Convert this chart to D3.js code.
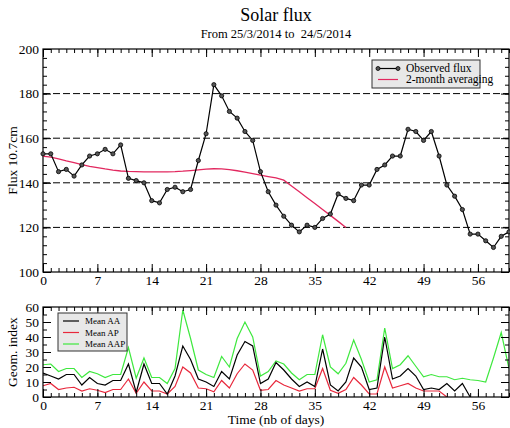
<!DOCTYPE html>
<html>
<head>
<meta charset="utf-8">
<script src="https://cdn.jsdelivr.net/npm/d3@7"></script>
<style>
    body { margin: 0; background: #fff; }
    svg text { font-family: "Liberation Serif", "DejaVu Serif", serif; fill: #000; }
    .axis path { display: none; }
    .axis line { stroke: #000; stroke-width: 1; }
</style>
</head>
<body>
<div id="chart"></div>
<script>
// days since 25/3/2014
const days = d3.range(0, 61);
const observedFlux = [153, 153, 145, 146, 143, 148, 152, 153, 155, 153, 157, 142, 141, 140, 132, 131, 137, 138, 136, 137,
    150, 162, 184, 179, 172, 169, 163, 159, 145, 136, 130, 125, 121, 118, 121, 120, 124, 126, 135, 133,
    132, 139, 139, 146, 148, 152, 152, 164, 163, 159, 163, 152, 139, 134, 128, 117, 117, 114, 111, 116, 118];
// 2-month averaging, available up to day 39
const averagedFlux = [152, 151.5, 150.7, 149.8, 149, 148.2, 147.4, 146.8, 146.2, 145.7, 145.3, 145.1, 145, 144.9, 144.9,
    144.9, 144.9, 145, 145.2, 145.5, 145.8, 146.1, 146.3, 146.2, 145.9, 145.4, 144.8, 144.1, 143.4, 142.8,
    142.2, 141.2, 138.6, 136, 133.3, 130.7, 128, 125.4, 122.7, 120];
const meanAA = [16, 14, 12, 15, 15, 8, 13, 9, 8, 11, 11, 22, 3, 22, 9, 9, 2, 14, 34, 25,
    12, 10, 7, 17, 12, 28, 37, 34, 9, 12, 23, 18, 12, 7, 10, 7, 32, 8, 4, 10,
    26, 20, 5, 6, 40, 12, 14, 19, 14, 5, 6, 5, 9, 4, 9, 0];
const meanAP = [7.5, 9, 5, 6, 6.5, 4, 5.5, 4.5, 3, 5, 5, 12, 2.5, 10, 4, 4, 2, 7, 20, 16,
    6, 5.5, 3.5, 11, 6, 15.5, 22, 18, 4.5, 5, 11, 8, 6, 4, 5.5, 5.5, 19, 4.5, 2.5, 5,
    13, 8, 2, 2, 20, 6, 7.5, 9, 6, 4, 4, 4, 0];
const meanAAP = [21.5, 22, 17, 19, 19, 13, 17, 15.5, 13, 15, 15, 33, 12.5, 26, 13, 13, 9, 19, 58, 39,
    18, 15, 13, 27, 20, 39, 50, 40, 14, 17, 24, 22, 16, 11.5, 15, 15, 41.5, 20, 15.5, 22.5,
    38, 25, 10, 11.5, 46, 19, 21.5, 27.5, 20.5, 13.5, 15, 13.5, 13.5, 11.5, 12.5, 11.5, 11, 10, 26, 43, 19];
const xTicks = [0, 7, 14, 21, 28, 35, 42, 49, 56];
const fluxTicks = [100, 120, 140, 160, 180, 200];
const fluxGrid = [120, 140, 160, 180];
const geomTicks = [0, 10, 20, 30, 40, 50, 60];

const fluxLegend = ['Observed flux', '2-month averaging'];
const geomSeries = [
    { name: 'Mean AA', values: meanAA, color: '#000000' },
    { name: 'Mean AP', values: meanAP, color: '#e8283c' },
    { name: 'Mean AAP', values: meanAAP, color: '#3ee83e' }
];

const width = 510;
const height = 428;
const left = 43;
const right = 509;

const svg = d3.select('#chart')
    .append('svg')
    .attr('width', width)
    .attr('height', height);

// title
svg.append('text')
    .attr('x', 276).attr('y', 21)
    .attr('text-anchor', 'middle')
    .style('font-size', '18px')
    .text('Solar flux');
svg.append('text')
    .attr('x', 276).attr('y', 38)
    .attr('text-anchor', 'middle')
    .style('font-size', '12.5px')
    .style('white-space', 'pre')
    .text('From 25/3/2014 to  24/5/2014');

const xScale = d3.scaleLinear().domain([0, 60]).range([left, right]);

// draws the frame with inward ticks on all four sides
function drawFrame(yScale, majorY, minorStep, showX) {
    const [y0, y1] = yScale.range();
    const [d0, d1] = yScale.domain();
    const minorY = d3.range(d0, d1 + 0.001, minorStep);
    const minorX = d3.range(0, 61);

    const put = (axis, tx, ty) => svg.append('g')
        .attr('class', 'axis')
        .attr('transform', `translate(${tx},${ty})`)
        .call(axis);

    // minor ticks
    put(d3.axisBottom(xScale).tickValues(minorX).tickSize(-4).tickFormat(''), 0, y0);
    put(d3.axisTop(xScale).tickValues(minorX).tickSize(-4).tickFormat(''), 0, y1);
    put(d3.axisLeft(yScale).tickValues(minorY).tickSize(-4).tickFormat(''), left, 0);
    put(d3.axisRight(yScale).tickValues(minorY).tickSize(-4).tickFormat(''), right, 0);

    // major ticks
    const xb = put(d3.axisBottom(xScale).tickValues(xTicks).tickSize(-8).tickPadding(3)
        .tickFormat(showX ? d3.format('d') : ''), 0, y0);
    xb.selectAll('text').style('font-size', '13.5px');
    put(d3.axisTop(xScale).tickValues(xTicks).tickSize(-8).tickFormat(''), 0, y1);
    const yl = put(d3.axisLeft(yScale).tickValues(majorY).tickSize(-8).tickPadding(4), left, 0);
    yl.selectAll('text').style('font-size', '13.5px');
    put(d3.axisRight(yScale).tickValues(majorY).tickSize(-8).tickFormat(''), right, 0);

    svg.append('rect')
        .attr('x', left).attr('y', y1)
        .attr('width', right - left).attr('height', y0 - y1)
        .attr('fill', 'none')
        .attr('stroke', '#000')
        .attr('stroke-width', 1.2);
}

// ---- top panel: solar flux
const fluxY = d3.scaleLinear().domain([100, 200]).range([272, 49]);

svg.append('g')
    .selectAll('line')
    .data(fluxGrid)
    .join('line')
    .attr('x1', left).attr('x2', right)
    .attr('y1', d => fluxY(d)).attr('y2', d => fluxY(d))
    .attr('stroke', '#000')
    .attr('stroke-width', 1)
    .attr('stroke-dasharray', '7,3');

drawFrame(fluxY, fluxTicks, 4, true);

const fluxLine = d3.line()
    .x((d, i) => xScale(days[i]))
    .y(d => fluxY(d));

svg.append('path')
    .datum(averagedFlux)
    .attr('d', fluxLine)
    .attr('fill', 'none')
    .attr('stroke', '#e2285f')
    .attr('stroke-width', 1.3);

svg.append('path')
    .datum(observedFlux)
    .attr('d', fluxLine)
    .attr('fill', 'none')
    .attr('stroke', '#000')
    .attr('stroke-width', 1.2);

svg.append('g')
    .selectAll('circle')
    .data(observedFlux)
    .join('circle')
    .attr('cx', (d, i) => xScale(days[i]))
    .attr('cy', d => fluxY(d))
    .attr('r', 2.1)
    .attr('fill', '#555')
    .attr('stroke', '#000')
    .attr('stroke-width', 0.8);

svg.append('text')
    .attr('transform', `translate(17,${(272 + 49) / 2}) rotate(-90)`)
    .attr('text-anchor', 'middle')
    .style('font-size', '13.5px')
    .text('Flux 10.7cm');

// legend
const lg = svg.append('g').attr('transform', 'translate(372,60)');
lg.append('rect')
    .attr('width', 108).attr('height', 28)
    .attr('fill', '#e8e8e8')
    .attr('stroke', '#333')
    .attr('stroke-width', 1);
lg.append('line')
    .attr('x1', 6).attr('x2', 26).attr('y1', 8.5).attr('y2', 8.5)
    .attr('stroke', '#000').attr('stroke-width', 1.2);
lg.selectAll('circle.mk')
    .data([6, 26])
    .join('circle')
    .attr('class', 'mk')
    .attr('cx', d => d).attr('cy', 8.5).attr('r', 2)
    .attr('fill', '#555').attr('stroke', '#000').attr('stroke-width', 0.8);
lg.append('line')
    .attr('x1', 6).attr('x2', 26).attr('y1', 19.5).attr('y2', 19.5)
    .attr('stroke', '#e2285f').attr('stroke-width', 1.2);
lg.selectAll('text')
    .data(fluxLegend)
    .join('text')
    .attr('x', 34)
    .attr('y', (d, i) => 12 + i * 11)
    .style('font-size', '11.5px')
    .text(d => d);

// ---- bottom panel: geomagnetic indices
const geomY = d3.scaleLinear().domain([0, 60]).range([397, 307]);

svg.append('clipPath')
    .attr('id', 'geom-clip')
    .append('rect')
    .attr('x', left).attr('y', 307)
    .attr('width', right - left).attr('height', 90);

const geomLine = d3.line()
    .x((d, i) => xScale(days[i]))
    .y(d => geomY(d));

svg.append('g')
    .attr('clip-path', 'url(#geom-clip)')
    .selectAll('path')
    .data(geomSeries.slice().reverse())
    .join('path')
    .attr('d', d => geomLine(d.values))
    .attr('fill', 'none')
    .attr('stroke', d => d.color)
    .attr('stroke-width', 1.2);

drawFrame(geomY, geomTicks, 5, true);

svg.append('text')
    .attr('transform', `translate(17,352) rotate(-90)`)
    .attr('text-anchor', 'middle')
    .style('font-size', '13.5px')
    .text('Geom. index');

svg.append('text')
    .attr('x', 276).attr('y', 424)
    .attr('text-anchor', 'middle')
    .style('font-size', '13.5px')
    .text('Time (nb of days)');

const gl = svg.append('g').attr('transform', 'translate(58,313)');
gl.append('rect')
    .attr('width', 69).attr('height', 38)
    .attr('fill', '#e8e8e8')
    .attr('stroke', '#333')
    .attr('stroke-width', 1);
geomSeries.forEach((s, i) => {
    gl.append('line')
        .attr('x1', 5).attr('x2', 21)
        .attr('y1', 8 + i * 11.5).attr('y2', 8 + i * 11.5)
        .attr('stroke', s.color).attr('stroke-width', 1.2);
    gl.append('text')
        .attr('x', 27).attr('y', 11 + i * 11.5)
        .style('font-size', '9px')
        .text(s.name);
});
</script>
</body>
</html>
